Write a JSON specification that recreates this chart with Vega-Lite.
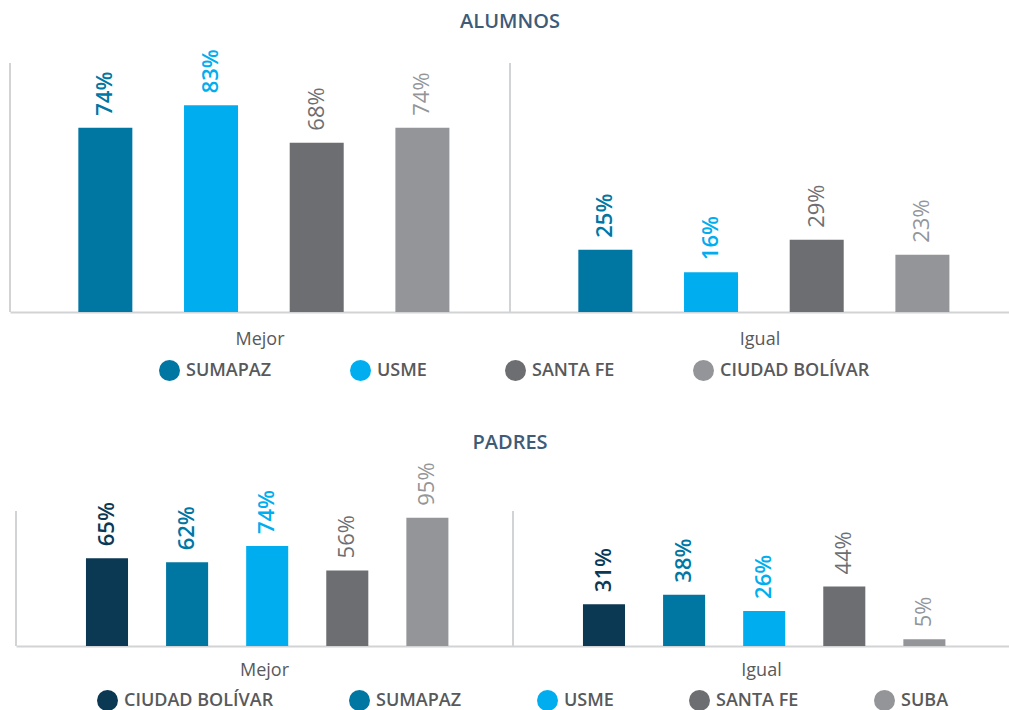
{
  "$schema": "https://vega.github.io/schema/vega-lite/v6.json",
  "padding": {"left": 9, "top": 12, "right": 0, "bottom": 0},
  "background": "white",
  "spacing": 52,
  "config": {
    "font": "Open Sans",
    "view": {"stroke": null},
    "title": {"fontSize": 20, "fontWeight": 600, "color": "#3e5b77", "anchor": "middle"},
    "legend": {
      "orient": "none",
      "direction": "horizontal",
      "title": null,
      "symbolType": "circle",
      "symbolSize": 441,
      "symbolStrokeWidth": 0,
      "labelFontSize": 18,
      "labelFontWeight": 600,
      "labelColor": "#58595b",
      "labelOffset": 6,
      "columnPadding": 78,
      "gridAlign": "none"
    },
    "axisX": {
      "domainColor": "#d1d3d4",
      "domainWidth": 2,
      "ticks": false,
      "labelFontSize": 18,
      "labelColor": "#58595b",
      "labelPadding": 18,
      "title": null,
      "labelAngle": 0,
      "grid": false
    }
  },
  "datasets": {
    "groups": [{"grupo": "Mejor"}, {"grupo": "Igual"}],
    "alumnos": [
      {"grupo": "Mejor", "localidad": "SUMAPAZ", "valor": 0.74},
      {"grupo": "Mejor", "localidad": "USME", "valor": 0.83},
      {"grupo": "Mejor", "localidad": "SANTA FE", "valor": 0.68},
      {"grupo": "Mejor", "localidad": "CIUDAD BOLÍVAR", "valor": 0.74},
      {"grupo": "Igual", "localidad": "SUMAPAZ", "valor": 0.25},
      {"grupo": "Igual", "localidad": "USME", "valor": 0.16},
      {"grupo": "Igual", "localidad": "SANTA FE", "valor": 0.29},
      {"grupo": "Igual", "localidad": "CIUDAD BOLÍVAR", "valor": 0.23}
    ],
    "padres": [
      {"grupo": "Mejor", "localidad": "CIUDAD BOLÍVAR", "valor": 0.65},
      {"grupo": "Mejor", "localidad": "SUMAPAZ", "valor": 0.62},
      {"grupo": "Mejor", "localidad": "USME", "valor": 0.74},
      {"grupo": "Mejor", "localidad": "SANTA FE", "valor": 0.56},
      {"grupo": "Mejor", "localidad": "SUBA", "valor": 0.95},
      {"grupo": "Igual", "localidad": "CIUDAD BOLÍVAR", "valor": 0.31},
      {"grupo": "Igual", "localidad": "SUMAPAZ", "valor": 0.38},
      {"grupo": "Igual", "localidad": "USME", "valor": 0.26},
      {"grupo": "Igual", "localidad": "SANTA FE", "valor": 0.44},
      {"grupo": "Igual", "localidad": "SUBA", "valor": 0.05}
    ]
  },
  "vconcat": [
    {
      "title": {"text": "ALUMNOS", "offset": 17},
      "width": 1000,
      "height": 249,
      "encoding": {
        "x": {"field": "grupo", "type": "nominal", "scale": {"domain": ["Mejor", "Igual"], "paddingInner": 0, "paddingOuter": 0}},
        "y": {"field": "valor", "type": "quantitative", "scale": {"domain": [0, 1]}, "axis": null}
      },
      "layer": [
        {
          "data": {"name": "groups"},
          "mark": {"type": "rule", "color": "#d1d3d4", "strokeWidth": 2},
          "encoding": {
            "x": {"field": "grupo", "type": "nominal", "bandPosition": 0},
            "y": null
          }
        },
        {
          "data": {"name": "alumnos"},
          "mark": {"type": "bar"},
          "encoding": {
            "xOffset": {"field": "localidad", "type": "nominal", "scale": {"domain": ["SUMAPAZ", "USME", "SANTA FE", "CIUDAD BOLÍVAR"], "paddingInner": 0.489, "paddingOuter": 0.61, "align": 0.53}},
            "color": {
              "field": "localidad", "type": "nominal",
              "scale": {"domain": ["SUMAPAZ", "USME", "SANTA FE", "CIUDAD BOLÍVAR"], "range": ["#0076a3", "#00aeef", "#6d6e71", "#939598"]},
              "legend": {"legendX": 149, "legendY": 297}
            }
          }
        },
        {
          "data": {"name": "alumnos"},
          "transform": [{"filter": {"field": "localidad", "oneOf": ["SUMAPAZ", "USME"]}}],
          "mark": {"type": "text", "angle": 270, "align": "left", "baseline": "middle", "dx": 12, "fontSize": 22, "fontWeight": 600},
          "encoding": {
            "xOffset": {"field": "localidad", "type": "nominal"},
            "text": {"field": "valor", "type": "quantitative", "format": ".0%"},
            "color": {"field": "localidad", "type": "nominal"}
          }
        },
        {
          "data": {"name": "alumnos"},
          "transform": [{"filter": {"field": "localidad", "oneOf": ["SANTA FE", "CIUDAD BOLÍVAR"]}}],
          "mark": {"type": "text", "angle": 270, "align": "left", "baseline": "middle", "dx": 12, "fontSize": 22, "fontWeight": "normal"},
          "encoding": {
            "xOffset": {"field": "localidad", "type": "nominal"},
            "text": {"field": "valor", "type": "quantitative", "format": ".0%"},
            "color": {"field": "localidad", "type": "nominal"}
          }
        }
      ]
    },
    {
      "title": {"text": "PADRES", "offset": 9},
      "width": 1000,
      "height": 135,
      "encoding": {
        "x": {"field": "grupo", "type": "nominal", "scale": {"domain": ["Mejor", "Igual"], "range": [6, 1000], "paddingInner": 0, "paddingOuter": 0}, "axis": {"labelPadding": 15}},
        "y": {"field": "valor", "type": "quantitative", "scale": {"domain": [0, 1]}, "axis": null}
      },
      "layer": [
        {
          "data": {"name": "groups"},
          "mark": {"type": "rule", "color": "#d1d3d4", "strokeWidth": 2},
          "encoding": {
            "x": {"field": "grupo", "type": "nominal", "bandPosition": 0},
            "y": null
          }
        },
        {
          "data": {"name": "padres"},
          "mark": {"type": "bar"},
          "encoding": {
            "xOffset": {"field": "localidad", "type": "nominal", "scale": {"domain": ["CIUDAD BOLÍVAR", "SUMAPAZ", "USME", "SANTA FE", "SUBA"], "paddingInner": 0.475, "paddingOuter": 0.84, "align": 0.52}},
            "color": {
              "field": "localidad", "type": "nominal",
              "scale": {"domain": ["CIUDAD BOLÍVAR", "SUMAPAZ", "USME", "SANTA FE", "SUBA"], "range": ["#0b3954", "#0076a3", "#00aeef", "#6d6e71", "#939598"]},
              "legend": {"legendX": 87, "legendY": 179, "columnPadding": 75}
            }
          }
        },
        {
          "data": {"name": "padres"},
          "transform": [{"filter": {"field": "localidad", "oneOf": ["CIUDAD BOLÍVAR", "SUMAPAZ", "USME"]}}],
          "mark": {"type": "text", "angle": 270, "align": "left", "baseline": "middle", "dx": 12, "fontSize": 22, "fontWeight": 600},
          "encoding": {
            "xOffset": {"field": "localidad", "type": "nominal"},
            "text": {"field": "valor", "type": "quantitative", "format": ".0%"},
            "color": {"field": "localidad", "type": "nominal"}
          }
        },
        {
          "data": {"name": "padres"},
          "transform": [{"filter": {"field": "localidad", "oneOf": ["SANTA FE", "SUBA"]}}],
          "mark": {"type": "text", "angle": 270, "align": "left", "baseline": "middle", "dx": 12, "fontSize": 22, "fontWeight": "normal"},
          "encoding": {
            "xOffset": {"field": "localidad", "type": "nominal"},
            "text": {"field": "valor", "type": "quantitative", "format": ".0%"},
            "color": {"field": "localidad", "type": "nominal"}
          }
        }
      ]
    }
  ],
  "resolve": {"scale": {"color": "independent", "x": "independent", "y": "independent", "xOffset": "independent"}, "legend": {"color": "independent"}}
}
